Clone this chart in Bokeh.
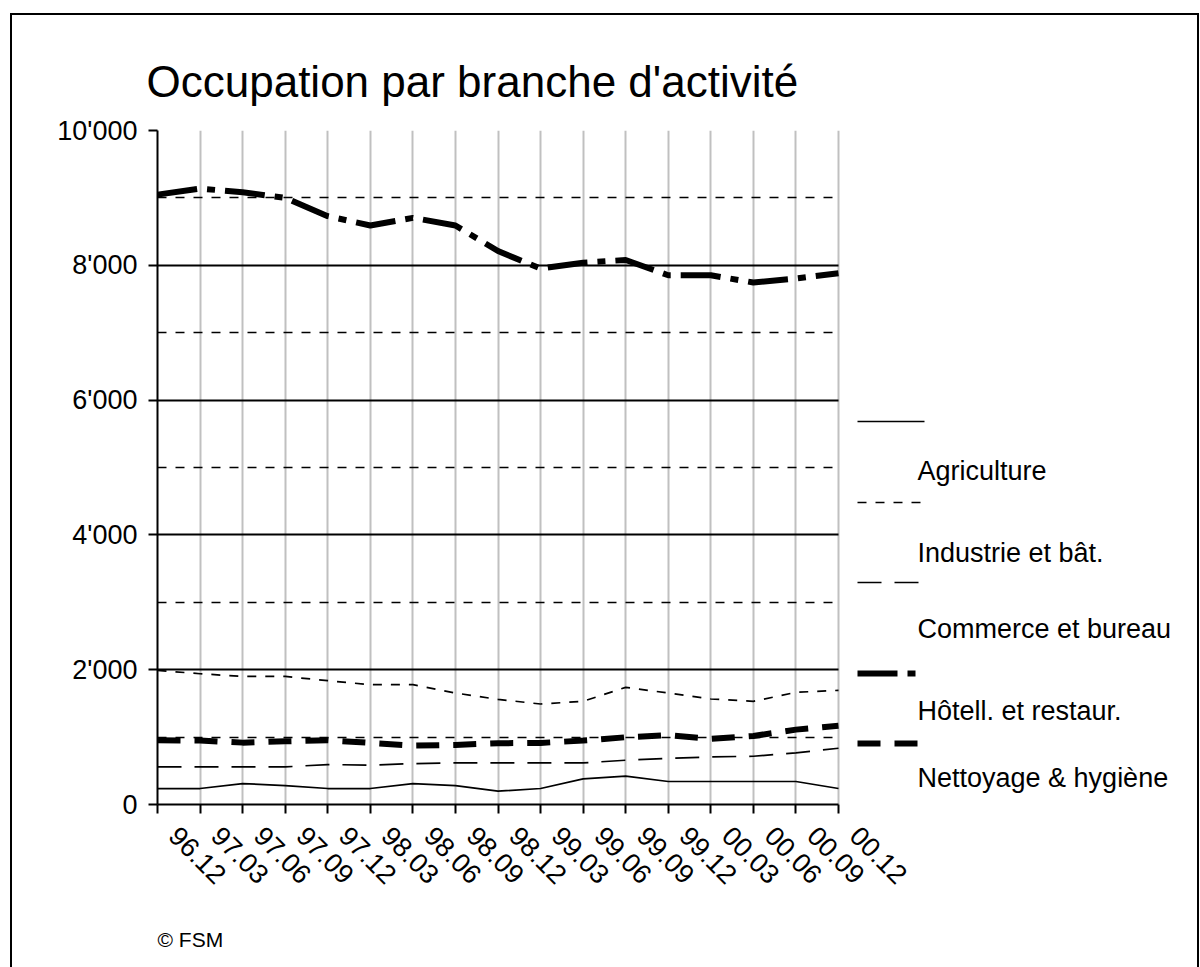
import math
from bokeh.plotting import figure
from bokeh.models import Range1d, FixedTicker, Title, Grid
from bokeh.core.properties import value
from bokeh.embed import file_html
from bokeh.resources import INLINE

periods = ["96.12", "97.03", "97.06", "97.09", "97.12", "98.03", "98.06", "98.09", "98.12",
           "99.03", "99.06", "99.09", "99.12", "00.03", "00.06", "00.09", "00.12"]
agriculture = [237, 237, 311, 281, 237, 237, 311, 281, 198, 237, 380, 420, 341, 341, 341, 341, 237]
industrie = [1990, 1940, 1900, 1900, 1837, 1778, 1778, 1654, 1560, 1491, 1531, 1738, 1654, 1565, 1531, 1664, 1694]
commerce = [558, 558, 558, 558, 593, 583, 607, 617, 617, 617, 617, 657, 686, 706, 716, 765, 835]
hotellerie = [9049, 9138, 9084, 9000, 8729, 8591, 8704, 8591, 8212, 7951, 8039, 8079, 7852, 7852, 7744, 7803, 7882]
nettoyage = [953, 948, 918, 938, 953, 914, 874, 884, 909, 914, 948, 998, 1027, 973, 1017, 1111, 1170]
series_names = ["Agriculture", "Industrie et bât.", "Commerce et bureau", "Hôtell. et restaur.", "Nettoyage & hygiène"]
y_ticks = [0, 2000, 4000, 6000, 8000, 10000]
y_minor = [1000, 3000, 5000, 7000, 9000]
y_tick_labels = ["0", "2'000", "4'000", "6'000", "8'000", "10'000"]

FONT = "Liberation Sans"
NB = "\u00a0"
xs = list(range(len(periods)))
n_last = len(periods) - 1

# geometry (page pixels); the page has no body margin, canvas placed by CSS margin + border
CANVAS_LEFT, CANVAS_TOP = 12, 15
CANVAS_RIGHT, CANVAS_BOTTOM = 1197, 967
FRAME_LEFT, FRAME_TOP, PLOT_RIGHT, FRAME_BOTTOM = 157, 130, 838, 804
FRAME_RIGHT = 1185
px_per_x = (PLOT_RIGHT - FRAME_LEFT) / n_last
frame_w = FRAME_RIGHT - FRAME_LEFT
frame_h = FRAME_BOTTOM - FRAME_TOP
Y_MAX = 10000


def px_x(px):
    return (px - FRAME_LEFT) / px_per_x


def px_y(py):
    return (FRAME_BOTTOM - py) / frame_h * Y_MAX


p = figure(frame_width=frame_w, frame_height=frame_h,
           x_range=Range1d(0, frame_w / px_per_x), y_range=Range1d(0, Y_MAX),
           output_backend="svg", toolbar_location=None,
           min_border_left=FRAME_LEFT - CANVAS_LEFT, min_border_top=FRAME_TOP - CANVAS_TOP,
           min_border_right=CANVAS_RIGHT - FRAME_RIGHT, min_border_bottom=CANVAS_BOTTOM - FRAME_BOTTOM,
           title="Occupation par branche d'activité")
p.styles = {"border": "2px solid black", "margin-left": "10px", "margin-top": "13px"}
p.outline_line_color = None
p.background_fill_color = "white"
p.border_fill_color = "white"

p.title.text_font = FONT
p.title.text_font_size = "44px"
p.title.text_font_style = "normal"
p.title.text_color = "black"
p.title.align = "left"
p.title.offset = -11
p.title.standoff = 50

# grids
p.xgrid.ticker = FixedTicker(ticks=xs)
p.xgrid.grid_line_color = "#c0c0c0"
p.xgrid.grid_line_width = 2

if "cross_bounds" in Grid.properties():
    p.ygrid.ticker = FixedTicker(ticks=y_ticks, minor_ticks=y_minor)
    p.ygrid.cross_bounds = (0, n_last)
    p.ygrid.grid_line_color = "black"
    p.ygrid.grid_line_width = 2
    p.ygrid.minor_grid_line_color = "black"
    p.ygrid.minor_grid_line_width = 1.5
    p.ygrid.minor_grid_line_dash = "9 9"
else:
    p.ygrid.grid_line_color = None
    p.segment(x0=[0] * len(y_ticks), x1=[n_last] * len(y_ticks), y0=y_ticks, y1=y_ticks,
              line_color="black", line_width=2, level="underlay")
    p.segment(x0=[0] * len(y_minor), x1=[n_last] * len(y_minor), y0=y_minor, y1=y_minor,
              line_color="black", line_width=1.5, line_dash="9 9", level="underlay")

# axes
p.xaxis.ticker = FixedTicker(ticks=xs)
p.xaxis.bounds = (0, n_last)
p.xaxis.major_label_overrides = {i: NB * 3 + lab for i, lab in zip(xs, periods)}
p.yaxis.ticker = FixedTicker(ticks=y_ticks)
p.yaxis.major_label_overrides = {t: lab for t, lab in zip(y_ticks, y_tick_labels)}
for ax in (p.xaxis[0], p.yaxis[0]):
    ax.axis_line_color = "black"
    ax.axis_line_width = 2
    ax.major_tick_line_color = "black"
    ax.major_tick_line_width = 2
    ax.major_tick_in = 0
    ax.major_tick_out = 9
    ax.minor_tick_line_color = None
    ax.major_label_text_font = FONT
    ax.major_label_text_font_size = "27px"
    ax.major_label_text_color = "black"
p.yaxis.major_label_standoff = 11
p.xaxis.major_label_orientation = -math.pi / 4
p.xaxis.major_label_standoff = 2

styles = [
    dict(line_width=1.7, line_dash="solid"),
    dict(line_width=1.7, line_dash="9 9"),
    dict(line_width=1.7, line_dash="24 13"),
    dict(line_width=6, line_dash="40 10 8 10"),
    dict(line_width=6, line_dash="23 14"),
]
data = [agriculture, industrie, commerce, hotellerie, nettoyage]
for ys, st in zip(data, styles):
    p.line(xs, ys, line_color="black", **st)

# legend: sample line above its label (positions in page pixels)
sample_y = [421, 502, 582, 673, 743]
text_y = [470, 552, 628, 710, 777]
sample_x0, sample_x1, text_x = 857, 924, 917
for name, st, sy, ty in zip(series_names, styles, sample_y, text_y):
    p.line([px_x(sample_x0), px_x(sample_x1)], [px_y(sy), px_y(sy)], line_color="black", **st)
    p.text(x=[px_x(text_x)], y=[px_y(ty)], text=[name], text_font=value(FONT),
           text_font_size=value("27px"), text_color="black",
           text_baseline="middle", text_align="left")

p.add_layout(Title(text="© FSM", align="left", text_font=FONT, text_font_size="21px",
                   text_font_style="normal", text_color="black", offset=0, standoff=44), "below")

open("out.html", "w").write(file_html(p, INLINE))
